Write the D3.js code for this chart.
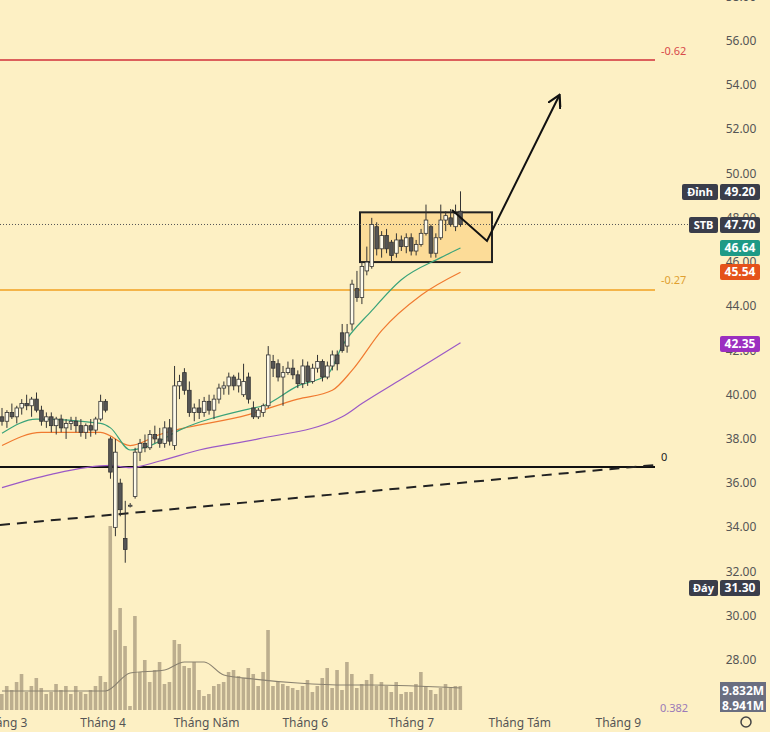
<!DOCTYPE html>
<html><head><meta charset="utf-8">
<script src="https://cdn.jsdelivr.net/npm/d3@7"></script>
<style>body{margin:0;background:#fdf0c4;font-family:"Noto Sans",sans-serif}</style>
</head><body><svg id="chart" width="770" height="732"></svg>
<script>
// OHLC candles, one per trading day
let candles = [
 [39.0,39.4,38.6,38.8],[38.8,39.3,38.5,39.2],[39.2,39.6,38.9,39.0],[39.0,39.5,38.7,39.4],[39.4,39.8,39.1,39.6],
 [39.6,40.0,39.3,39.5],[39.5,39.9,39.0,39.8],[39.8,40.1,39.2,39.3],[39.3,39.5,38.6,38.8],[38.8,39.2,38.5,39.0],
 [39.0,39.2,38.3,38.6],[38.6,39.0,38.2,38.9],[38.9,39.1,38.3,38.5],[38.5,38.9,38.0,38.7],[38.7,39.0,38.4,38.8],
 [38.8,39.0,38.3,38.6],[38.6,38.9,38.1,38.3],[38.3,38.7,38.0,38.6],[38.6,38.9,38.1,38.4],[38.4,39.0,38.2,38.9],
 [38.9,40.0,38.8,39.7],[39.7,39.8,39.2,39.3],[38.0,38.1,36.2,36.5],[34.0,38.0,33.6,37.4],[36.0,36.2,34.5,34.8],
 [33.5,35.2,32.4,33.0],[35.0,35.1,34.9,35.0],[35.4,37.6,35.3,37.4],[37.4,38.0,37.0,37.8],[37.8,38.2,37.4,37.6],
 [37.6,38.4,37.5,38.2],[38.2,38.6,37.8,38.0],[38.0,38.5,37.6,37.8],[37.8,38.8,37.6,38.5],[38.5,38.9,37.7,37.9],
 [37.7,41.3,37.5,40.4],[40.4,40.9,39.8,40.6],[41.0,41.2,40.0,40.2],[40.2,40.6,39.0,39.2],[39.2,39.6,38.8,39.4],
 [39.4,39.8,38.9,39.2],[39.2,39.9,39.0,39.7],[39.7,40.0,39.1,39.3],[39.3,40.0,38.9,39.8],[39.8,40.5,39.6,40.3],
 [40.3,40.6,40.0,40.4],[40.4,41.0,40.0,40.8],[40.8,40.9,40.2,40.4],[40.4,41.0,40.1,40.7],[40.0,41.4,39.9,40.6],
 [40.8,41.0,39.6,39.8],[39.4,39.7,38.9,39.0],[39.0,39.4,38.9,39.3],[39.2,39.6,39.0,39.5],[39.5,42.2,39.4,41.8],
 [41.5,41.8,40.8,41.2],[41.4,41.6,40.6,40.8],[40.8,41.3,39.5,41.0],[41.0,41.5,40.9,41.2],[41.2,41.6,40.7,40.9],
 [40.9,41.1,40.3,40.5],[40.5,41.6,40.3,41.3],[41.3,41.5,40.4,40.6],[40.6,41.4,40.5,41.2],[41.2,41.8,41.0,41.5],
 [41.5,41.6,40.6,40.8],[40.8,41.5,40.7,41.3],[41.3,42.0,41.1,41.8],[41.8,42.0,41.1,41.4],[42.8,43.2,41.9,42.0],
 [42.2,43.2,41.9,42.8],[43.2,45.2,42.9,45.0],[44.8,45.6,44.2,44.4],[44.4,46.0,44.1,45.8],[45.6,46.7,45.4,46.0],
 [45.8,48.0,45.7,47.7],[47.6,47.8,46.3,46.6],[46.6,47.4,46.2,47.2],[47.2,47.5,46.4,46.6],[46.9,47.0,46.0,46.3],
 [46.4,47.3,46.2,47.0],[47.0,47.2,46.5,46.7],[46.7,47.3,46.4,47.1],[47.1,47.3,46.3,46.5],[46.5,47.0,46.3,46.8],
 [46.8,47.5,46.7,47.3],[47.3,48.6,47.2,47.9],[47.6,47.7,46.2,46.4],[46.4,47.3,46.2,47.1],[47.1,48.6,47.0,47.9],
 [47.9,48.3,47.4,48.1],[48.0,48.4,47.6,47.7],[47.6,48.6,47.4,48.2],[48.3,49.2,47.6,47.7]
];
// daily volume, millions
let volumes = [8,12,10,14,18,9,12,16,11,8,9,13,10,12,8,12,9,8,10,12,17,14,92,40,51,32,2,47,19,25,
 14,20,24,13,14,35,33,22,21,24,10,7,8,12,13,14,19,20,17,16,21,18,12,19,40,12,14,13,12,11,
 10,12,15,9,12,16,21,11,20,10,24,18,11,13,15,18,12,14,12,9,14,8,9,9,13,19,12,10,8,11,13,11,12,12];
let volumeMA = [[0,9.5],[21,9.5],[26,18.5],[33,20],[37,24],[41,24],[45,17.5],[51,15.5],[60,13.5],[70,12.5],[75,12.5],[93,11]];

// moving averages as [candle index, price]
let maGreen = [[0,38.26],[7,38.9],[20,38.7],[22,38.5],[26,37.5],[30,37.7],[36,38.4],[50,39.35],[53,39.5],[60,40.4],[66,40.9],[69,42.2],[75,43.8],[81,45.2],[89,46.2],[93,46.64]];
let maOrange = [[0,37.7],[8,38.3],[20,38.3],[26,37.7],[32,38.2],[50,39.1],[60,39.8],[67,40.2],[71,41.1],[77,42.9],[85,44.5],[93,45.54]];
let maPurple = [[0,35.8],[10,36.4],[22,36.8],[26,36.7],[32,37.0],[40,37.5],[52,38.0],[69,39.0],[73,39.6],[81,40.7],[93,42.35]];

let priceTicks = [58,56,54,52,50,48,46,44,42,40,38,36,34,32,30,28];
let months = [["Tháng 3",0.5],["Tháng 4",20.5],["Tháng Năm",41.5],["Tháng 6",61.5],["Tháng 7",83],["Tháng Tám",105],["Tháng 9",125]];

let svg = d3.select("#chart");
let x = d3.scaleLinear().domain([0, 93]).range([2, 460.5]);
let y = d3.scaleLinear().domain([56, 28]).range([41, 660]);
let yVol = d3.scaleLinear().domain([0, 100]).range([710, 510]);
let W = 655;

// volume
svg.selectAll(".vol").data(volumes).join("rect")
  .attr("x", (d, i) => x(i) - 2).attr("width", 3.6)
  .attr("y", d => yVol(d)).attr("height", d => 710 - yVol(d))
  .attr("fill", "#bcae8e");
svg.append("path").datum(volumeMA)
  .attr("d", d3.line().x(d => x(d[0])).y(d => yVol(d[1])).curve(d3.curveMonotoneX))
  .attr("fill", "none").attr("stroke", "#8a8270").attr("stroke-width", 1.2);

// fib levels
svg.append("line").attr("x1", 0).attr("x2", W).attr("y1", 60).attr("y2", 60).attr("stroke", "#d0313a").attr("stroke-width", 1.5);
svg.append("text").attr("x", 661).attr("y", 55).attr("fill", "#d84a4a").attr("font-size", 11).text("-0.62");
svg.append("line").attr("x1", 0).attr("x2", W).attr("y1", 290).attr("y2", 290).attr("stroke", "#f0a020").attr("stroke-width", 1.5);
svg.append("text").attr("x", 661).attr("y", 284).attr("fill", "#e0a030").attr("font-size", 11).text("-0.27");
svg.append("line").attr("x1", 0).attr("x2", W).attr("y1", 467).attr("y2", 467).attr("stroke", "#111").attr("stroke-width", 2);
svg.append("text").attr("x", 661).attr("y", 461).attr("fill", "#222").attr("font-size", 11).text("0");
svg.append("text").attr("x", 660).attr("y", 712).attr("fill", "#9a7ab8").attr("font-size", 11).text("0.382");

// trend line
svg.append("line").attr("x1", 0).attr("y1", 525).attr("x2", W).attr("y2", 465)
  .attr("stroke", "#222").attr("stroke-width", 2).attr("stroke-dasharray", "10,7");

// consolidation box
svg.append("rect").attr("x", 360).attr("y", y(48.25)).attr("width", 132).attr("height", y(46.0) - y(48.25))
  .attr("fill", "#fbd68a").attr("fill-opacity", 0.75).attr("stroke", "#222").attr("stroke-width", 2);

// last price dotted line
svg.append("line").attr("x1", 0).attr("x2", 690).attr("y1", y(47.7)).attr("y2", y(47.7))
  .attr("stroke", "#555").attr("stroke-dasharray", "1,2");

// MAs
let maLine = d3.line().x(d => x(d[0])).y(d => y(d[1])).curve(d3.curveMonotoneX);
[[maPurple, "#9b59c6"], [maOrange, "#f07a30"], [maGreen, "#3aa37a"]].forEach(m => {
  svg.append("path").datum(m[0]).attr("d", maLine).attr("fill", "none").attr("stroke", m[1]).attr("stroke-width", 1.2);
});

// candles
let cg = svg.append("g");
cg.selectAll("line").data(candles).join("line")
  .attr("x1", (d, i) => x(i)).attr("x2", (d, i) => x(i))
  .attr("y1", d => y(d[1])).attr("y2", d => y(d[2]))
  .attr("stroke", "#333").attr("stroke-width", 1);
cg.selectAll("rect").data(candles).join("rect")
  .attr("x", (d, i) => x(i) - 1.8).attr("width", 3.6)
  .attr("y", d => y(Math.max(d[0], d[3])))
  .attr("height", d => Math.max(1, Math.abs(y(d[0]) - y(d[3]))))
  .attr("fill", d => d[3] >= d[0] ? "#fffbea" : "#555")
  .attr("stroke", "#333").attr("stroke-width", 0.8);

// projection arrow
svg.append("defs").append("marker").attr("id", "ah").attr("viewBox", "0 0 10 10")
  .attr("refX", 8).attr("refY", 5).attr("markerWidth", 7).attr("markerHeight", 7).attr("orient", "auto")
  .append("path").attr("d", "M0,0 L9,5 L0,10").attr("fill", "none").attr("stroke", "#111").attr("stroke-width", 1.6);
svg.append("path").attr("d", `M452,210 L487,241 L559,96`).attr("fill", "none")
  .attr("stroke", "#111").attr("stroke-width", 2).attr("marker-end", "url(#ah)");

// price axis labels
svg.selectAll(".pt").data(priceTicks).join("text")
  .attr("x", 741).attr("y", d => y(d) + 4).attr("text-anchor", "middle")
  .attr("font-size", 12).attr("fill", "#555").text(d => d.toFixed(2));

// tags
function tag(label, value, cy, bg) {
  if (label) {
    let w = label.length * 7 + 8;
    svg.append("rect").attr("x", 718 - w).attr("y", cy - 8).attr("width", w).attr("height", 16).attr("rx", 2).attr("fill", "#3a3d4a");
    svg.append("text").attr("x", 718 - w / 2).attr("y", cy + 4).attr("text-anchor", "middle").attr("font-size", 11).attr("font-weight", "bold").attr("fill", "#fff").text(label);
  }
  svg.append("rect").attr("x", 720).attr("y", cy - 8).attr("width", 40).attr("height", 16).attr("rx", 2).attr("fill", bg);
  svg.append("text").attr("x", 740).attr("y", cy + 4).attr("text-anchor", "middle").attr("font-size", 12).attr("font-weight", "bold").attr("fill", "#fff").text(value);
}
tag("Đỉnh", "49.20", 192, "#3a3d4a");
tag("STB", "47.70", 225, "#3a3d4a");
tag(null, "46.64", 248, "#1e9a86");
tag(null, "45.54", 272, "#e5521a");
tag(null, "42.35", 344, "#9b2fc0");
tag("Đáy", "31.30", 588, "#3a3d4a");
svg.append("rect").attr("x", 720).attr("y", 682).attr("width", 46).attr("height", 30).attr("fill", "#6a6e80");
svg.append("text").attr("x", 743).attr("y", 695).attr("text-anchor", "middle").attr("font-size", 12).attr("font-weight", "bold").attr("fill", "#fff").text("9.832M");
svg.append("text").attr("x", 743).attr("y", 710).attr("text-anchor", "middle").attr("font-size", 12).attr("font-weight", "bold").attr("fill", "#fff").text("8.941M");

// time axis
svg.selectAll(".mt").data(months).join("text")
  .attr("x", d => x(d[1])).attr("y", 727).attr("text-anchor", "middle")
  .attr("font-size", 12).attr("fill", "#555").text(d => d[0]);
svg.append("circle").attr("cx", 746).attr("cy", 722).attr("r", 5).attr("fill", "none").attr("stroke", "#444").attr("stroke-width", 1.5);
</script></body></html>
